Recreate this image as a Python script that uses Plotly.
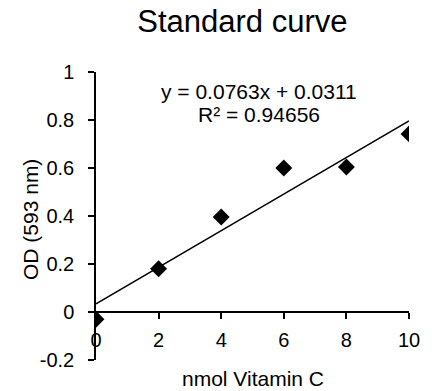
import numpy as np
import plotly.graph_objects as go

nmol = [0, 2, 4, 6, 8, 10]
od = [-0.03, 0.18, 0.396, 0.6, 0.604, 0.742]
yticks = [-0.2, 0, 0.2, 0.4, 0.6, 0.8, 1]
yticklabels = ["-0.2", "0", "0.2", "0.4", "0.6", "0.8", "1"]
xticks = [0, 2, 4, 6, 8, 10]
eq_line1 = "y = 0.0763x + 0.0311"
eq_line2 = "R² = 0.94656"
x_title = "nmol Vitamin C"
y_title = "OD (593 nm)"

slope, intercept = np.polyfit(nmol, od, 1)
fit_x = [min(nmol), max(nmol)]
fit_y = [slope * v + intercept for v in fit_x]

FONT = "Liberation Sans, Arial, Helvetica, sans-serif"

fig = go.Figure()
fig.add_trace(go.Scatter(x=fit_x, y=fit_y, mode="lines",
                         line=dict(color="black", width=1.5), hoverinfo="skip"))
fig.add_trace(go.Scatter(x=nmol, y=od, mode="markers",
                         marker=dict(symbol="diamond", size=13, color="black")))

fig.update_layout(
    width=432, height=391,
    margin=dict(l=96, r=16, t=72, b=31),
    paper_bgcolor="white", plot_bgcolor="white",
    showlegend=False,
    font=dict(family=FONT, color="black"),
    title=dict(text="Standard curve", x=0.561, xanchor="center", y=0.947, yanchor="middle",
               font=dict(size=31, family=FONT)),
    xaxis=dict(range=[0, 10], tickvals=xticks, anchor="free", position=1/6,
               showline=True, linecolor="black", linewidth=1.5,
               ticks="outside", ticklen=6, tickwidth=1.5, tickcolor="black",
               showgrid=False, zeroline=False, tickfont=dict(size=20),
               ticklabelstandoff=4),
    yaxis=dict(range=[-0.2, 1], tickvals=yticks, ticktext=yticklabels,
               showline=True, linecolor="black", linewidth=1.5,
               ticks="outside", ticklen=6, tickwidth=1.5, tickcolor="black",
               showgrid=False, zeroline=False, tickfont=dict(size=20),
               ticklabelstandoff=10),
    annotations=[
        dict(text=eq_line1, x=5.2, y=0.917, xref="x", yref="y", showarrow=False,
             font=dict(size=21), xanchor="center", yanchor="middle"),
        dict(text=eq_line2, x=5.2, y=0.823, xref="x", yref="y", showarrow=False,
             font=dict(size=21), xanchor="center", yanchor="middle"),
        dict(text=x_title, x=0.5, y=0, xref="paper", yref="paper", yshift=-18,
             showarrow=False, font=dict(size=21), xanchor="center", yanchor="middle"),
        dict(text=y_title, x=0, y=0.5, xref="paper", yref="paper", xshift=-66, yshift=-4,
             textangle=-90, showarrow=False, font=dict(size=21),
             xanchor="center", yanchor="middle"),
    ],
)

fig.write_html("out.html")
